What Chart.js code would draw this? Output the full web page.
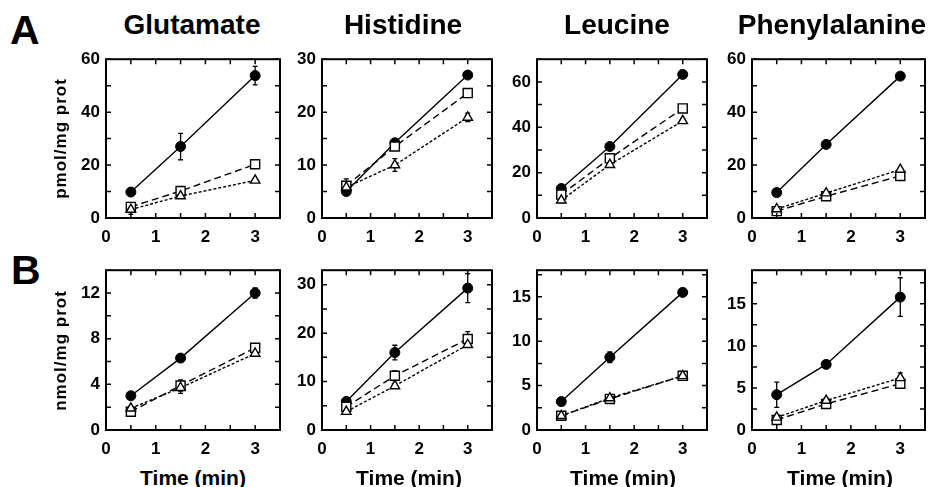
<!DOCTYPE html>
<html>
<head>
<meta charset="utf-8">
<script src="https://cdn.jsdelivr.net/npm/chart.js@4/dist/chart.umd.min.js"></script>
<style>
body { margin: 0; background: #fff; }
#wrap { position: relative; width: 936px; height: 487px; overflow: hidden; font-family: "Liberation Sans", Arial, sans-serif; font-weight: bold; color: #000; }
.lbl { position: absolute; line-height: 1; white-space: nowrap; }
.ttl { width: 240px; text-align: center; font-size: 28px; }
.tm { width: 200px; text-align: center; font-size: 21px; }
.ytl { font-size: 17px; letter-spacing: 1px; width: 160px; text-align: center; transform: rotate(-90deg); }
.big { font-size: 41px; }
canvas { position: absolute; }
</style>
</head>
<body>
<div id="wrap"></div>
<script>
// data
let times = [0.5, 1.5, 3];
let aminoAcids = ['Glutamate', 'Histidine', 'Leucine', 'Phenylalanine'];
let xTickLabels = ['0', '1', '2', '3'];

// row A, pmol/mg prot
let gluA_circle = [9.8, 27, 53.8];
let gluA_circleErr = [1, 5, 3.5];
let gluA_square = [4.2, 10.2, 20.3];
let gluA_squareErr = [1.2, 1, 1];
let gluA_tri = [3.2, 8.3, 14.2];
let gluA_triErr = [1.8, 0.8, 0.5];

let hisA_circle = [5, 14.2, 27];
let hisA_circleErr = [0.6, 0.5, 0.5];
let hisA_square = [6.1, 13.5, 23.6];
let hisA_squareErr = [1.3, 0.6, 0.6];
let hisA_tri = [5.8, 10, 19];
let hisA_triErr = [0.8, 1.2, 0.8];

let leuA_circle = [13, 31.5, 63.3];
let leuA_circleErr = [1, 1, 1];
let leuA_square = [10.3, 26.3, 48.3];
let leuA_squareErr = [1, 1, 1];
let leuA_tri = [7.8, 23.5, 42.8];
let leuA_triErr = [1, 1, 1];

let pheA_circle = [9.6, 27.8, 53.6];
let pheA_circleErr = [0.5, 0.5, 0.5];
let pheA_square = [2.6, 8.2, 15.9];
let pheA_squareErr = [0.5, 0.5, 0.5];
let pheA_tri = [3.4, 9.4, 18.3];
let pheA_triErr = [0.5, 0.5, 0.5];

// row B, nmol/mg prot
let gluB_circle = [3.0, 6.3, 12.0];
let gluB_circleErr = [0.2, 0.2, 0.45];
let gluB_square = [1.6, 3.9, 7.2];
let gluB_squareErr = [0.2, 0.5, 0.3];
let gluB_tri = [1.9, 3.7, 6.7];
let gluB_triErr = [0.2, 0.5, 0.2];

let hisB_circle = [5.9, 16, 29.3];
let hisB_circleErr = [0.5, 1.5, 3];
let hisB_square = [4.8, 11.2, 18.8];
let hisB_squareErr = [0.5, 1, 1.5];
let hisB_tri = [3.8, 9.1, 17.6];
let hisB_triErr = [0.5, 0.5, 0.5];

let leuB_circle = [3.2, 8.2, 15.5];
let leuB_circleErr = [0.2, 0.6, 0.3];
let leuB_square = [1.6, 3.5, 6.1];
let leuB_squareErr = [0.2, 0.2, 0.2];
let leuB_tri = [1.6, 3.6, 6.1];
let leuB_triErr = [0.2, 0.2, 0.2];

let pheB_circle = [4.2, 7.8, 15.8];
let pheB_circleErr = [1.5, 0.4, 2.3];
let pheB_square = [1.2, 3.1, 5.5];
let pheB_squareErr = [0.3, 0.3, 0.5];
let pheB_tri = [1.5, 3.5, 6.2];
let pheB_triErr = [0.3, 0.3, 0.6];

// y axis: max, minor tick step, labelled step
let yAxisA = [[60, 10, 20], [30, 5, 10], [70, 10, 20], [60, 10, 20]];
let yAxisB = [[14, 2, 4], [33, 5, 10], [18, 2.5, 5], [19, 2.5, 5]];

// layout of the plot boxes
let boxLeft = [106, 322, 537, 752];
let boxRight = [280, 492, 707, 925];
let rowTop = [57, 268];
let rowBottom = [218, 430];

Chart.defaults.font.family = '"Liberation Sans", Arial, sans-serif';
Chart.defaults.font.weight = 'bold';
Chart.defaults.color = '#000';

let wrap = document.getElementById('wrap');

function isStep(v, step){
    let r = v / step;
    return Math.abs(r - Math.round(r)) < 1e-6;
}

// inward ticks + full box
let boxPlugin = {
    id: 'boxPlugin',
    afterDraw(chart){
        let ctx = chart.ctx;
        let a = chart.chartArea;
        let xs = chart.scales.x;
        let ys = chart.scales.y;
        let minor = chart.options.plugins.boxPlugin.minor;
        ctx.save();
        ctx.strokeStyle = '#000';
        ctx.lineWidth = 1.5;
        ctx.beginPath();
        xs.ticks.forEach(t => {
            if(!isStep(t.value, 0.5)) return;
            let px = xs.getPixelForValue(t.value);
            ctx.moveTo(px, a.bottom); ctx.lineTo(px, a.bottom - 5);
            ctx.moveTo(px, a.top); ctx.lineTo(px, a.top + 5);
        });
        ys.ticks.forEach(t => {
            if(!isStep(t.value, minor)) return;
            let py = ys.getPixelForValue(t.value);
            ctx.moveTo(a.left, py); ctx.lineTo(a.left + 5, py);
            ctx.moveTo(a.right, py); ctx.lineTo(a.right - 5, py);
        });
        ctx.stroke();
        ctx.lineWidth = 2;
        ctx.strokeRect(a.left, a.top, a.right - a.left, a.bottom - a.top);
        ctx.restore();
    }
};

// error bars behind markers
let errPlugin = {
    id: 'errPlugin',
    beforeDatasetsDraw(chart){
        let ctx = chart.ctx;
        let ys = chart.scales.y;
        ctx.save();
        ctx.strokeStyle = '#000';
        ctx.lineWidth = 1.3;
        ctx.setLineDash([]);
        chart.data.datasets.forEach((ds, di) => {
            let meta = chart.getDatasetMeta(di);
            ds.data.forEach((p, i) => {
                let e = ds.errs[i];
                let pt = meta.data[i];
                let yt = ys.getPixelForValue(p.y + e);
                let yb = ys.getPixelForValue(p.y - e);
                ctx.beginPath();
                ctx.moveTo(pt.x, yt); ctx.lineTo(pt.x, yb);
                ctx.moveTo(pt.x - 2.5, yt); ctx.lineTo(pt.x + 2.5, yt);
                ctx.moveTo(pt.x - 2.5, yb); ctx.lineTo(pt.x + 2.5, yb);
                ctx.stroke();
            });
        });
        ctx.restore();
    }
};

function pts(vals){
    return vals.map((v, i) => ({x: times[i], y: v}));
}

function makePanel(col, row, circle, circleErr, square, squareErr, tri, triErr, yAxis){
    let padL = 52, padT = 14, padR = 14, padB = 36;
    let w = boxRight[col] - boxLeft[col];
    let h = rowBottom[row] - rowTop[row];
    let cv = document.createElement('canvas');
    cv.width = w + padL + padR;
    cv.height = h + padT + padB;
    cv.style.left = (boxLeft[col] - padL) + 'px';
    cv.style.top = (rowTop[row] - padT) + 'px';
    wrap.appendChild(cv);

    let ymax = yAxis[0], minor = yAxis[1], major = yAxis[2];

    new Chart(cv, {
        type: 'line',
        data: {
            datasets: [
                {data: pts(tri), errs: triErr, borderColor: '#000', borderWidth: 1.4, borderDash: [3, 2],
                 pointStyle: 'triangle', pointRadius: 5.5, pointBackgroundColor: '#fff', pointBorderColor: '#000', pointBorderWidth: 1.4},
                {data: pts(square), errs: squareErr, borderColor: '#000', borderWidth: 1.4, borderDash: [7, 4],
                 pointStyle: 'rect', pointRadius: 6.4, pointBackgroundColor: '#fff', pointBorderColor: '#000', pointBorderWidth: 1.4},
                {data: pts(circle), errs: circleErr, borderColor: '#000', borderWidth: 1.4,
                 pointStyle: 'circle', pointRadius: 5, pointBackgroundColor: '#000', pointBorderColor: '#000', pointBorderWidth: 1}
            ]
        },
        options: {
            responsive: false,
            animation: false,
            devicePixelRatio: 1,
            layout: {padding: {left: 0, top: padT, right: padR, bottom: 0}},
            plugins: {legend: {display: false}, tooltip: {enabled: false}, boxPlugin: {minor: minor}},
            scales: {
                x: {
                    type: 'linear', min: 0, max: 3.5,
                    grid: {display: false, drawTicks: false}, border: {display: false},
                    ticks: {stepSize: 0.5, padding: 9, font: {size: 17, weight: 'bold'}, maxRotation: 0, autoSkip: false,
                        callback: v => isStep(v, 1) ? xTickLabels[Math.round(v)] : ''},
                    afterFit: s => { s.height = padB; }
                },
                y: {
                    type: 'linear', min: 0, max: ymax,
                    grid: {display: false, drawTicks: false}, border: {display: false},
                    ticks: {stepSize: minor, includeBounds: false, padding: 6, font: {size: 17, weight: 'bold'}, autoSkip: false,
                        callback: v => isStep(v, major) ? String(v) : ''},
                    afterFit: s => { s.width = padL; }
                }
            }
        },
        plugins: [errPlugin, boxPlugin]
    });
}

function addText(cls, txt, left, top){
    let d = document.createElement('div');
    d.className = 'lbl ' + cls;
    d.innerText = txt;
    d.style.left = left + 'px';
    d.style.top = top + 'px';
    wrap.appendChild(d);
}

makePanel(0, 0, gluA_circle, gluA_circleErr, gluA_square, gluA_squareErr, gluA_tri, gluA_triErr, yAxisA[0]);
makePanel(1, 0, hisA_circle, hisA_circleErr, hisA_square, hisA_squareErr, hisA_tri, hisA_triErr, yAxisA[1]);
makePanel(2, 0, leuA_circle, leuA_circleErr, leuA_square, leuA_squareErr, leuA_tri, leuA_triErr, yAxisA[2]);
makePanel(3, 0, pheA_circle, pheA_circleErr, pheA_square, pheA_squareErr, pheA_tri, pheA_triErr, yAxisA[3]);
makePanel(0, 1, gluB_circle, gluB_circleErr, gluB_square, gluB_squareErr, gluB_tri, gluB_triErr, yAxisB[0]);
makePanel(1, 1, hisB_circle, hisB_circleErr, hisB_square, hisB_squareErr, hisB_tri, hisB_triErr, yAxisB[1]);
makePanel(2, 1, leuB_circle, leuB_circleErr, leuB_square, leuB_squareErr, leuB_tri, leuB_triErr, yAxisB[2]);
makePanel(3, 1, pheB_circle, pheB_circleErr, pheB_square, pheB_squareErr, pheB_tri, pheB_triErr, yAxisB[3]);

// titles, labels
let titleCenters = [192, 403, 617, 832];
let timeCenters = [193, 409, 623, 840];
for(let i = 0; i < aminoAcids.length; i++){
    addText('ttl', aminoAcids[i], titleCenters[i] - 120, 11);
    addText('tm', 'Time (min)', timeCenters[i] - 100, 467);
}
addText('big', 'A', 10, 10);
addText('big', 'B', 11, 250);
addText('ytl', 'pmol/mg prot', 60 - 80, 139 - 9);
addText('ytl', 'nmol/mg prot', 60 - 80, 351 - 9);
</script>
</body>
</html>
